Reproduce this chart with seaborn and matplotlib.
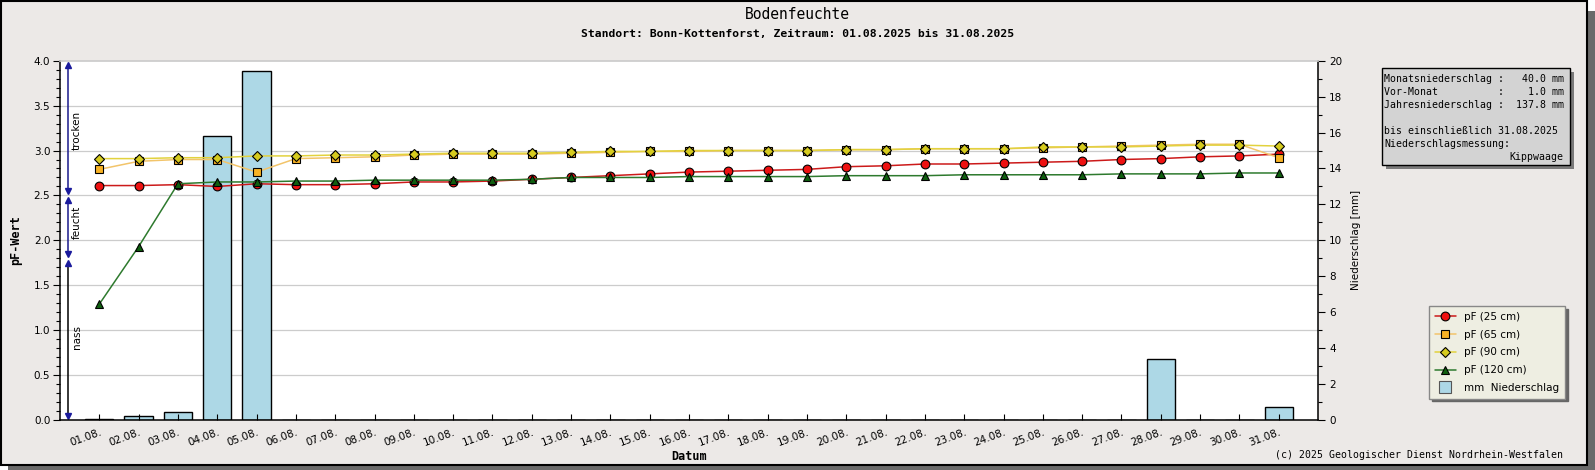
import numpy as np
import matplotlib
matplotlib.use("Agg")
import matplotlib.pyplot as plt
import seaborn as sns
from matplotlib.patches import Rectangle
from matplotlib.lines import Line2D

# --- Data ---
days = list(range(1, 32))
date_labels = ["01.08.", "02.08.", "03.08.", "04.08.", "05.08.", "06.08.", "07.08.", "08.08.",
               "09.08.", "10.08.", "11.08.", "12.08.", "13.08.", "14.08.", "15.08.", "16.08.",
               "17.08.", "18.08.", "19.08.", "20.08.", "21.08.", "22.08.", "23.08.", "24.08.",
               "25.08.", "26.08.", "27.08.", "28.08.", "29.08.", "30.08.", "31.08."]
pf25 = [2.61, 2.61, 2.62, 2.60, 2.63, 2.62, 2.62, 2.63, 2.65, 2.65, 2.66, 2.68, 2.70, 2.72, 2.74, 2.76,
        2.77, 2.78, 2.79, 2.82, 2.83, 2.85, 2.85, 2.86, 2.87, 2.88, 2.90, 2.91, 2.93, 2.94, 2.96]
pf65 = [2.79, 2.88, 2.90, 2.90, 2.76, 2.91, 2.92, 2.93, 2.95, 2.96, 2.96, 2.96, 2.97, 2.98, 2.99, 2.99,
        3.00, 3.00, 3.00, 3.01, 3.01, 3.02, 3.02, 3.02, 3.03, 3.04, 3.05, 3.06, 3.07, 3.07, 2.92]
pf90 = [2.91, 2.91, 2.92, 2.92, 2.94, 2.94, 2.95, 2.95, 2.96, 2.97, 2.97, 2.97, 2.98, 2.99, 2.99, 3.00,
        3.00, 3.00, 3.00, 3.01, 3.01, 3.02, 3.02, 3.02, 3.04, 3.04, 3.04, 3.05, 3.06, 3.06, 3.05]
pf120 = [1.29, 1.93, 2.63, 2.65, 2.65, 2.66, 2.66, 2.67, 2.67, 2.67, 2.67, 2.68, 2.70, 2.70, 2.70, 2.71,
         2.71, 2.71, 2.71, 2.72, 2.72, 2.72, 2.73, 2.73, 2.73, 2.73, 2.74, 2.74, 2.74, 2.75, 2.75]
rain = [0.05, 0.2, 0.45, 15.8, 19.4, 0, 0, 0, 0, 0, 0, 0, 0, 0, 0, 0,
        0, 0, 0, 0, 0, 0, 0, 0, 0, 0, 0, 3.4, 0, 0, 0.75]

# zones: (label, lower pF, upper pF, label centre)
zones = [("trocken", 2.55, 3.95, 3.22), ("feucht", 1.85, 2.45, 2.2), ("nass", 0.05, 1.75, 0.92)]

info_lines = ["Monatsniederschlag :   40.0 mm",
              "Vor-Monat          :    1.0 mm",
              "Jahresniederschlag :  137.8 mm",
              "",
              "bis einschließlich 31.08.2025",
              "Niederschlagsmessung:"]

# --- Setup ---
sns.set_theme(style="white")
plt.rcParams["font.family"] = ["DejaVu Sans"]
plt.rcParams["text.color"] = "black"
plt.rcParams["axes.labelcolor"] = "black"
plt.rcParams["xtick.color"] = "black"
plt.rcParams["ytick.color"] = "black"
W, H = 1595, 470
fig = plt.figure(figsize=(W / 100, H / 100), dpi=100)
fig.patch.set_facecolor("white")

def fx(px):
    return px / W

def fy(py):
    return 1 - py / H

# frame with drop shadow
fig.patches.append(Rectangle((fx(8), 0), fx(1587), 1 - 11 / H, transform=fig.transFigure,
                             facecolor="#6a6a6a", edgecolor="none", zorder=-3))
fig.patches.append(Rectangle((fx(0.8), 5 / H), fx(1586), 1 - 5.8 / H, transform=fig.transFigure,
                             facecolor="#ECE9E7", edgecolor="black", linewidth=1.5, zorder=-2))

ax = fig.add_axes([fx(60), 1 - 420 / H, fx(1318 - 60), (420 - 60.7) / H])
ax2 = ax.twinx()
ax.set_zorder(2)
ax.patch.set_visible(False)
ax2.set_zorder(1)
ax2.patch.set_visible(True)
ax2.patch.set_facecolor("white")

# --- precipitation bars ---
sns.barplot(x=days, y=rain, ax=ax2, native_scale=True, width=0.72, color="#ADD8E6",
            edgecolor="black", linewidth=1, saturation=1)
for t in np.arange(0.5, 4.0, 0.5):
    ax2.axhline(t * 5, color="#CCCCCC", linewidth=0.9, zorder=0)

# --- pF lines ---
series = [
    (pf25, "pF (25 cm)", "#CC1A1A", "#EE1111", "o", 6.3),
    (pf65, "pF (65 cm)", "#F2C46A", "#F8B224", "s", 5.3),
    (pf90, "pF (90 cm)", "#E2D23E", "#D6CB1E", "D", 5.0),
    (pf120, "pF (120 cm)", "#2E7A2E", "#0F5F0F", "^", 6.3),
]
for vals, lab, lc, mc, mk, ms in series:
    sns.lineplot(x=days, y=vals, ax=ax, color=lc, linewidth=1.1, marker=mk, markersize=ms,
                 markerfacecolor=mc, markeredgecolor="black", markeredgewidth=0.8, label=lab)
if ax.get_legend() is not None:
    ax.get_legend().remove()

# --- zone arrows ---
zx = 0.2
for name, lo, hi, mid in zones:
    lcol = "black" if name == "nass" else "#1A1A8C"
    ax.plot([zx, zx], [lo, hi], color=lcol, linewidth=1.1, clip_on=False)
    ax.plot([zx], [hi], marker="^", color="#1A1A9C", markersize=5, clip_on=False)
    ax.plot([zx], [lo], marker="v", color="#1A1A9C", markersize=5, clip_on=False)
    ax.text(zx + 0.23, mid, name, rotation=90, ha="center", va="center", fontsize=7.5, color="black")

# --- axes styling ---
ax.set_xlim(0, 32)
ax.set_ylim(0, 4)
ax2.set_ylim(0, 20)
ax.set_yticks(np.arange(0, 4.01, 0.5))
ax.set_yticks(np.arange(0, 4.01, 0.1), minor=True)
ax.set_yticklabels([f"{v:.1f}" for v in np.arange(0, 4.01, 0.5)])
ax2.set_yticks(np.arange(0, 21, 2))
ax2.set_yticks(np.arange(0, 21, 1), minor=True)
ax.set_xticks(days)
ax.set_xticklabels(date_labels, rotation=20, ha="right", rotation_mode="anchor")
ax2.tick_params(axis="x", bottom=False, top=False, labelbottom=False, labeltop=False)
ax.tick_params(axis="y", which="major", direction="out", length=5, width=0.8, labelsize=7.5,
               left=True, colors="black", pad=2)
ax.tick_params(axis="y", which="minor", direction="out", length=3, width=0.8, left=True)
ax.tick_params(axis="x", direction="in", length=4, width=0.8, labelsize=7.5, bottom=True, pad=5,
               labelbottom=True, colors="black")
ax2.tick_params(axis="y", which="major", direction="out", length=5, width=0.8, labelsize=7.5,
                right=True, pad=3, colors="black")
ax2.tick_params(axis="y", which="minor", direction="out", length=3, width=0.8, right=True)
ax.set_xlabel("")
ax.set_ylabel("")
ax2.set_xlabel("")
ax2.set_ylabel("")
ax.grid(False)
ax2.grid(False)
for s in ["left", "bottom"]:
    ax.spines[s].set_color("black")
    ax.spines[s].set_linewidth(1.1)
ax.spines["top"].set_color("#CCCCCC")
ax.spines["right"].set_visible(False)
for s in ["left", "top", "bottom"]:
    ax2.spines[s].set_visible(False)
ax2.spines["right"].set_color("black")
ax2.spines["right"].set_linewidth(1.1)

# --- texts ---
fig.text(0.5, fy(14.2), "Bodenfeuchte", ha="center", va="center", fontsize=10.5, family="DejaVu Sans Mono")
fig.text(0.5, fy(33.6), "Standort: Bonn-Kottenforst, Zeitraum: 01.08.2025 bis 31.08.2025",
         ha="center", va="center", fontsize=8.2, family="DejaVu Sans Mono", weight="bold")
fig.text(fx(16), fy(240), "pF-Wert", rotation=90, ha="center", va="center", fontsize=8.5,
         family="DejaVu Sans Mono", weight="bold")
fig.text(fx(1356), fy(240), "Niederschlag [mm]", rotation=90, ha="center", va="center", fontsize=7.5)
fig.text(fx(689), fy(456), "Datum", ha="center", va="center", fontsize=8.5,
         family="DejaVu Sans Mono", weight="bold")
fig.text(fx(1563), fy(455), "(c) 2025 Geologischer Dienst Nordrhein-Westfalen", ha="right", va="center",
         fontsize=7.1, family="DejaVu Sans Mono")

# info box
fig.patches.append(Rectangle((fx(1386), fy(169)), fx(188), (165 - 68.3) / H, transform=fig.transFigure,
                             facecolor="#7a7a7a", edgecolor="none", zorder=1))
fig.patches.append(Rectangle((fx(1381.7), fy(165)), fx(188.3), (165 - 68.3) / H, transform=fig.transFigure,
                             facecolor="#D3D3D3", edgecolor="black", linewidth=1, zorder=2))
for line, yy in zip(info_lines, [79.3, 92.3, 105.3, 118.3, 131.0, 144.3]):
    fig.text(fx(1384.5), fy(yy), line, ha="left", va="center", fontsize=7.1, family="DejaVu Sans Mono",
             zorder=3)
fig.text(fx(1563), fy(157.3), "Kippwaage", ha="right", va="center", fontsize=7.1,
         family="DejaVu Sans Mono", zorder=3)

# legend
handles, labels = ax.get_legend_handles_labels()
handles.append(Line2D([], [], linestyle="none", marker="s", markersize=9, markerfacecolor="#ADD8E6",
                      markeredgecolor="#555555", markeredgewidth=0.8))
labels.append("mm  Niederschlag")
fig.legend(handles, labels, loc="upper left", bbox_to_anchor=(fx(1429), fy(306)), borderaxespad=0,
           fontsize=7.5, frameon=True, fancybox=False, facecolor="#EEEEE2", edgecolor="#888888",
           framealpha=1, shadow={"color": "#666666", "alpha": 1}, handlelength=2.0,
           labelspacing=0.75, borderpad=0.55, handletextpad=0.8)

fig.savefig("out.png", dpi=100, facecolor=fig.get_facecolor())
